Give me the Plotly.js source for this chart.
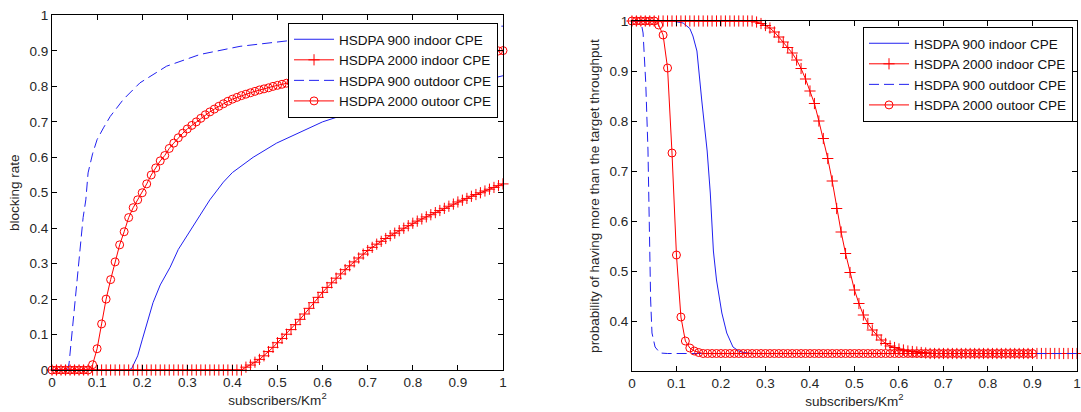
<!DOCTYPE html>
<html>
<head>
<meta charset="utf-8">
<script src="https://cdn.plot.ly/plotly-3.0.1.min.js"></script>
<style>
html,body{margin:0;padding:0;background:#fff;}
#chart{width:1081px;height:412px;}
</style>
</head>
<body>
<div id="chart"></div>
<script>
// ---------- data ----------
const seriesNames = ["HSDPA 900 indoor CPE", "HSDPA 2000 indoor CPE", "HSDPA 900 outdoor CPE", "HSDPA 2000 outoor CPE"];

const xGrid = [0,0.01,0.02,0.03,0.04,0.05,0.06,0.07,0.08,0.09,0.10,0.11,0.12,0.13,0.14,0.15,0.16,0.17,0.18,0.19,0.20,0.21,0.22,0.23,0.24,0.25,0.26,0.27,0.28,0.29,0.30,0.31,0.32,0.33,0.34,0.35,0.36,0.37,0.38,0.39,0.40,0.41,0.42,0.43,0.44,0.45,0.46,0.47,0.48,0.49,0.50,0.51,0.52,0.53,0.54,0.55,0.56,0.57,0.58,0.59,0.60,0.61,0.62,0.63,0.64,0.65,0.66,0.67,0.68,0.69,0.70,0.71,0.72,0.73,0.74,0.75,0.76,0.77,0.78,0.79,0.80,0.81,0.82,0.83,0.84,0.85,0.86,0.87,0.88,0.89,0.90,0.91,0.92,0.93,0.94,0.95,0.96,0.97,0.98,0.99,1.00];

// Left chart: blocking rate
const leftBlueSolidX = [0,0.17,0.177,0.19,0.2,0.21,0.224,0.24,0.262,0.28,0.306,0.33,0.35,0.38,0.40,0.446,0.498,0.55,0.6,0.66,0.72,0.8,0.9,1.0];
const leftBlueSolidY = [0,0,0.005,0.04,0.085,0.13,0.19,0.24,0.29,0.34,0.39,0.44,0.48,0.53,0.557,0.60,0.64,0.67,0.70,0.725,0.745,0.77,0.80,0.83];

const leftBlueDashX = [0,0.035,0.038,0.044,0.05,0.058,0.069,0.075,0.08,0.09,0.1,0.115,0.129,0.158,0.195,0.254,0.328,0.417,0.505,0.6,0.7,0.8,0.9,1.0];
const leftBlueDashY = [0,0,0.02,0.10,0.19,0.29,0.43,0.48,0.556,0.61,0.65,0.685,0.715,0.763,0.81,0.857,0.89,0.913,0.927,0.94,0.95,0.96,0.965,0.97];

const leftRedPlusY = [0,0,0,0,0,0,0,0,0,0,0,0,0,0,0,0,0,0,0,0,0,0,0,0,0,0,0,0,0,0,0,0,0,0,0,0,0,0,0,0,0,0,0,
  0.008,0.014,0.022,0.03,0.04,0.052,0.064,0.077,0.089,0.101,
  0.114,0.128,0.143,0.158,0.174,0.19,0.205,0.219,
  0.233,0.246,0.259,0.271,0.283,0.294,0.305,0.316,0.327,0.337,
  0.346,0.355,0.363,0.371,0.379,0.386,0.393,0.400,0.407,0.414,
  0.420,0.426,0.432,0.438,0.444,0.450,0.456,0.462,0.468,0.474,
  0.479,0.484,0.490,0.495,0.500,0.505,0.510,0.515,0.520,0.525];

const leftRedCircleY = [0,0,0,0,0,0,0,0,0,
  0.015,0.06,0.13,0.20,0.255,0.305,0.353,0.39,0.43,0.458,0.48,
  0.50,0.525,0.55,0.57,0.59,0.605,0.625,0.64,0.655,0.668,
  0.68,0.69,0.70,0.71,0.72,0.728,0.736,0.744,0.751,0.758,
  0.764,0.769,0.774,0.778,0.782,0.786,0.79,0.793,0.796,0.80,
  0.803,0.806,
  0.809,0.812,0.815,0.818,0.821,0.824,0.827,0.829,0.832,
  0.834,0.837,0.839,0.842,0.844,0.846,0.848,0.851,0.853,0.855,
  0.857,0.859,0.861,0.863,0.865,0.866,0.868,0.870,0.872,0.873,
  0.875,0.877,0.878,0.880,0.881,0.883,0.884,0.886,0.887,0.889,
  0.890,0.891,0.893,0.894,0.895,0.897,0.898,0.899,0.900,0.901];

// Right chart: probability of having more than the target throughput
const rightBlueSolidX = [0,0.09,0.115,0.13,0.137,0.146,0.157,0.169,0.176,0.183,0.19,0.202,0.213,0.227,0.24,0.25,0.27,0.3,1.0];
const rightBlueSolidY = [1,1,0.996,0.985,0.97,0.94,0.84,0.74,0.656,0.54,0.482,0.416,0.376,0.348,0.34,0.337,0.335,0.335,0.335];

const rightBlueDashX = [0,0.02,0.025,0.031,0.036,0.038,0.04,0.042,0.045,0.052,0.063,0.08,1.0];
const rightBlueDashY = [1,1,0.976,0.876,0.742,0.642,0.576,0.442,0.376,0.348,0.336,0.335,0.335];

const rightRedPlusY = [1,1,1,1,1,1,1,1,1,1,1,1,1,1,1,1,1,1,1,1,1,1,1,1,1,1,1,1,
  0.998,0.995,0.991,0.986,0.978,0.968,0.958,0.947,0.936,0.922,
  0.905,0.884,0.860,0.835,0.80,0.765,0.725,0.68,0.625,0.578,
  0.535,0.497,0.462,0.435,0.412,0.395,0.382,0.372,0.362,0.355,
  0.350,0.347,0.344,0.342,0.340,0.339,0.338,0.337,0.336,
  0.335,0.335,0.335,0.335,0.335,0.335,0.335,0.335,0.335,0.335,
  0.335,0.335,0.335,0.335,0.335,0.335,0.335,0.335,0.335,0.335,
  0.335,0.335,0.335,0.335,0.335,0.335,0.335,0.335,0.335,0.335,
  0.335,0.335,0.335,0.335];

const rightRedCircleY = [1,1,1,1,1,1,
  0.992,0.972,0.906,0.736,0.532,0.408,0.36,0.346,0.34,0.337,
  0.335,0.335,0.335,0.335,0.335,0.335,0.335,0.335,0.335,0.335,
  0.335,0.335,0.335,0.335,0.335,0.335,0.335,0.335,0.335,0.335,
  0.335,0.335,0.335,0.335,0.335,0.335,0.335,0.335,0.335,0.335,
  0.335,0.335,0.335,0.335,0.335,0.335,0.335,0.335,0.335,0.335,
  0.335,0.335,0.335,0.335,0.335,0.335,0.335,0.335,0.335,0.335,
  0.335,0.335,0.335,0.335,0.335,0.335,0.335,0.335,0.335,0.335,
  0.335,0.335,0.335,0.335,0.335,0.335,0.335,0.335,0.335,0.335,
  0.335,0.335,0.335,0.335,0.335];

const xTickVals = [0,0.1,0.2,0.3,0.4,0.5,0.6,0.7,0.8,0.9,1];
const xTickText = ["0","0.1","0.2","0.3","0.4","0.5","0.6","0.7","0.8","0.9","1"];
const leftYTickVals = [0,0.1,0.2,0.3,0.4,0.5,0.6,0.7,0.8,0.9,1];
const leftYTickText = ["0","0.1","0.2","0.3","0.4","0.5","0.6","0.7","0.8","0.9","1"];
const rightYTickVals = [0.4,0.5,0.6,0.7,0.8,0.9,1];
const rightYTickText = ["0.4","0.5","0.6","0.7","0.8","0.9","1"];

// ---------- styles ----------
const BLUE = "#2020f0";
const RED = "#ff0000";
const FONT = "'Liberation Sans', Arial, Helvetica, sans-serif";
const TXT = "#262626";
const FS = 13.5;

function lineTrace(x, y, name, color, dash, xa, ya, leg) {
  return {x: x, y: y, name: name, type: "scatter", mode: "lines",
    line: {color: color, width: 1, dash: dash}, xaxis: xa, yaxis: ya, legend: leg,
    cliponaxis: false, hoverinfo: "skip"};
}
function markTrace(x, y, name, color, symbol, xa, ya, leg) {
  return {x: x, y: y, name: name, type: "scatter", mode: "lines+markers",
    line: {color: color, width: 1},
    marker: {symbol: symbol, size: 8, color: color, line: {color: color, width: 1}},
    xaxis: xa, yaxis: ya, legend: leg, cliponaxis: false, hoverinfo: "skip"};
}

const data = [
  lineTrace(leftBlueSolidX, leftBlueSolidY, seriesNames[0], BLUE, "solid", "x", "y", "legend"),
  markTrace(xGrid, leftRedPlusY, seriesNames[1], RED, "cross-thin-open", "x", "y", "legend"),
  lineTrace(leftBlueDashX, leftBlueDashY, seriesNames[2], BLUE, "10px,5px", "x", "y", "legend"),
  markTrace(xGrid, leftRedCircleY, seriesNames[3], RED, "circle-open", "x", "y", "legend"),
  lineTrace(rightBlueSolidX, rightBlueSolidY, seriesNames[0], BLUE, "solid", "x2", "y2", "legend2"),
  markTrace(xGrid, rightRedPlusY, seriesNames[1], RED, "cross-thin-open", "x2", "y2", "legend2"),
  lineTrace(rightBlueDashX, rightBlueDashY, seriesNames[2], BLUE, "10px,5px", "x2", "y2", "legend2"),
  markTrace(xGrid, rightRedCircleY, seriesNames[3], RED, "circle-open", "x2", "y2", "legend2")
];

const axisCommon = {
  showline: true, linecolor: "#000", linewidth: 1, mirror: "ticks",
  ticks: "inside", ticklen: 5, tickcolor: "#000", tickwidth: 1,
  showgrid: false, zeroline: false, automargin: false, fixedrange: true,
  tickfont: {size: FS, color: TXT, family: FONT}
};

const legendCommon = {
  bgcolor: "#fff", bordercolor: "#000", borderwidth: 1,
  font: {size: FS, color: "#111", family: FONT},
  xanchor: "right", yanchor: "top", itemwidth: 40, tracegroupgap: 0
};

const titleFont = {size: FS, color: TXT, family: FONT};

const layout = {
  width: 1081, height: 412,
  margin: {l: 0, r: 0, t: 0, b: 0},
  paper_bgcolor: "#fff", plot_bgcolor: "#fff",
  font: {family: FONT, color: TXT, size: FS},
  xaxis: Object.assign({}, axisCommon, {domain: [0.0481, 0.4653], range: [0, 1], anchor: "y",
    tickvals: xTickVals, ticktext: xTickText,
    title: {text: "subscribers/Km<sup>2</sup>", font: titleFont, standoff: 4}}),
  yaxis: Object.assign({}, axisCommon, {domain: [0.1019, 0.9624], range: [0, 1], anchor: "x",
    tickvals: leftYTickVals, ticktext: leftYTickText,
    title: {text: "blocking rate", font: titleFont, standoff: 6}}),
  xaxis2: Object.assign({}, axisCommon, {domain: [0.5846, 0.9963], range: [0, 1], anchor: "y2",
    tickvals: xTickVals, ticktext: xTickText,
    title: {text: "subscribers/Km<sup>2</sup>", font: titleFont, standoff: 4}}),
  yaxis2: Object.assign({}, axisCommon, {domain: [0.0995, 0.949], range: [0.3, 1], anchor: "x2",
    tickvals: rightYTickVals, ticktext: rightYTickText,
    title: {text: "probability of having more than the target throughput", font: titleFont, standoff: 6}}),
  legend: Object.assign({}, legendCommon, {x: 0.4607, y: 0.9442}),
  legend2: Object.assign({}, legendCommon, {x: 0.9926, y: 0.9345}),
  showlegend: true
};

Plotly.newPlot("chart", data, layout, {displayModeBar: false, staticPlot: true});
</script>
</body>
</html>
